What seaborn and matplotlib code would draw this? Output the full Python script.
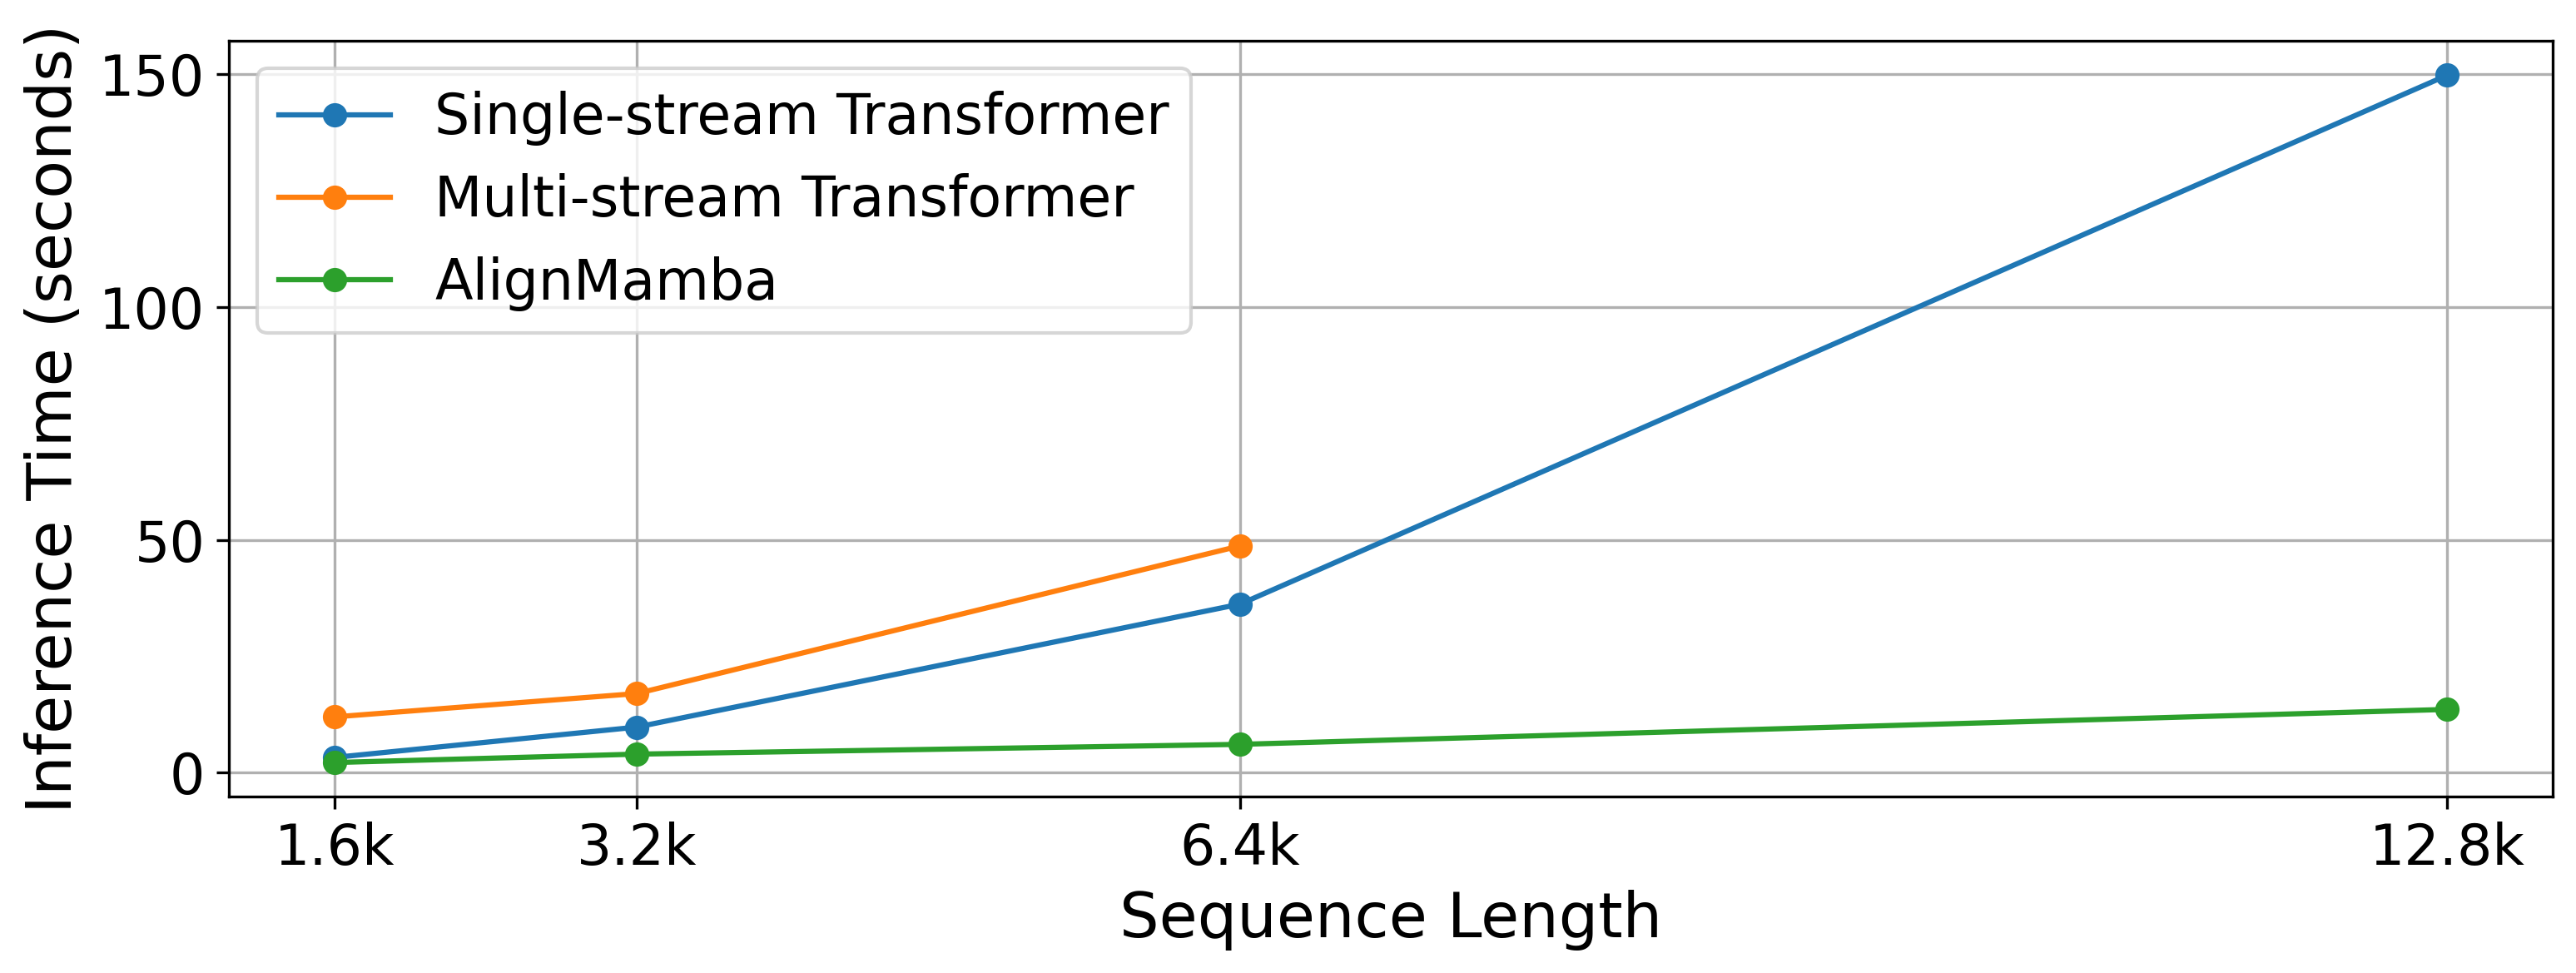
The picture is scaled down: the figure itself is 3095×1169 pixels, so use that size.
import matplotlib
matplotlib.use('Agg')
import matplotlib.pyplot as plt
import pandas as pd
import numpy as np
import seaborn as sns

# Sequence lengths (in thousands) and inference times (seconds)
seq_len = [1.6, 3.2, 6.4, 12.8]
tick_labels = ['1.6k', '3.2k', '6.4k', '12.8k']
single_stream = [3.3, 9.8, 36.2, 149.7]
multi_stream = [12.0, 17.0, 48.7]          # no 12.8k run
align_mamba = [2.2, 4.0, 6.1, 13.6]

series = {
    'Single-stream Transformer': (seq_len, single_stream, '#1f77b4'),
    'Multi-stream Transformer': (seq_len[:3], multi_stream, '#ff7f0e'),
    'AlignMamba': (seq_len, align_mamba, '#2ca02c'),
}

if __name__ == '__main__':
    fig, ax = plt.subplots(figsize=(3095 / 300, 1169 / 300), dpi=300)
    fig.subplots_adjust(left=0.089, right=0.991, top=0.958, bottom=0.181)

    for name, (xs, ys, c) in series.items():
        df = pd.DataFrame({'x': xs, 'y': ys})
        sns.lineplot(data=df, x='x', y='y', ax=ax, marker='o', color=c, label=name,
                     linewidth=1.5, markersize=6, markeredgecolor=c, markeredgewidth=1.0)

    ax.set_xticks(seq_len)
    ax.set_xticklabels(tick_labels)
    ax.tick_params(axis='both', labelsize=16)
    ax.set_xlabel('Sequence Length', fontsize=18)
    ax.set_ylabel('Inference Time (seconds)', fontsize=18)
    ax.grid(True)
    ax.legend(loc='upper left', fontsize=16)

    plt.savefig('out.png', dpi=300)
